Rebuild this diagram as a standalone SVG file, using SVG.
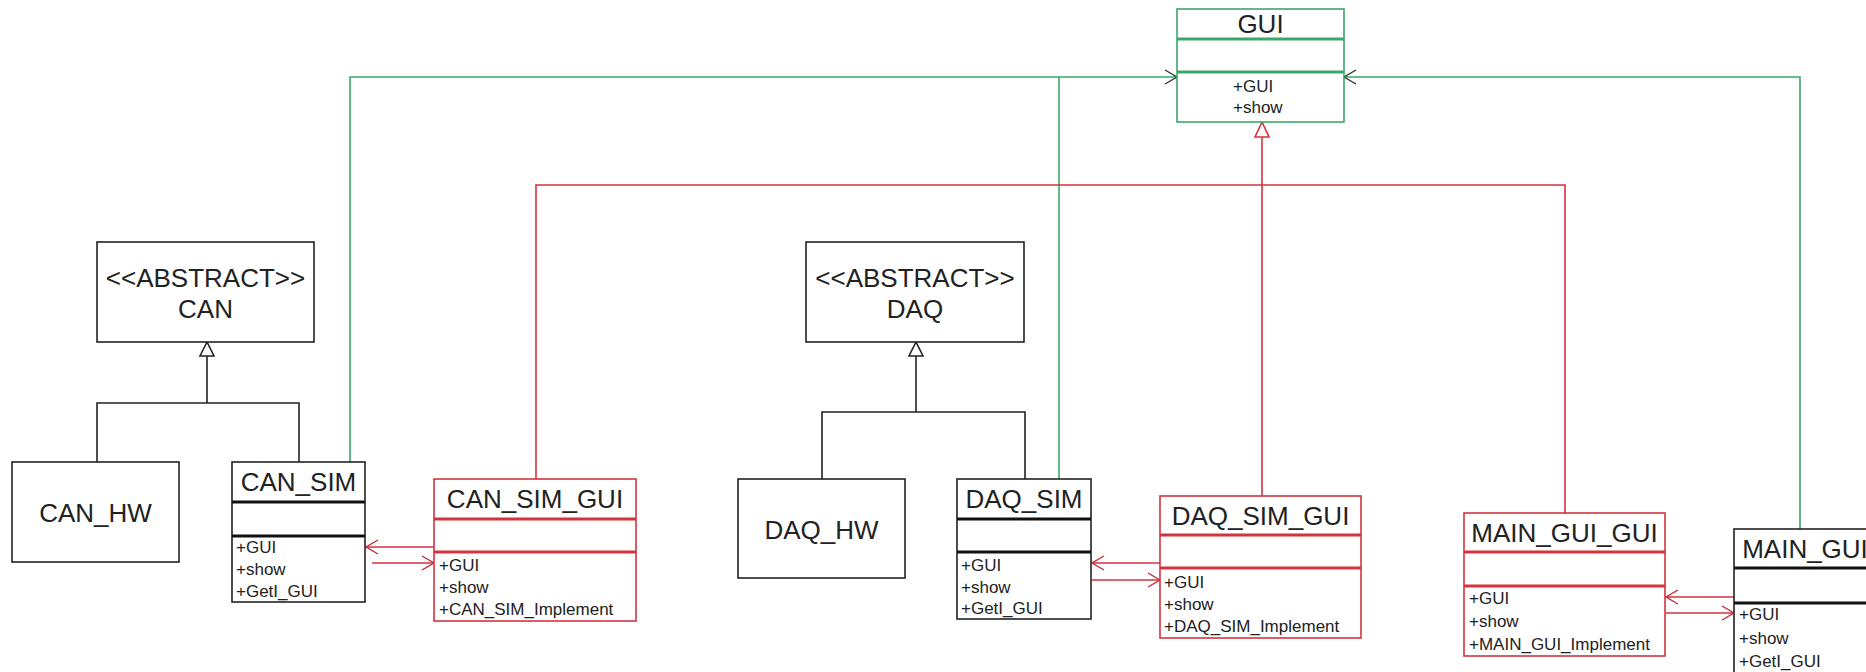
<svg xmlns="http://www.w3.org/2000/svg" width="1866" height="672" viewBox="0 0 1866 672">
<style>
  text { font-family: "Liberation Sans", Arial, sans-serif; fill: #222; }
  .name { font-size: 26px; text-anchor: middle; }
  .mem { font-size: 17px; }
  .bk { fill: #fff; stroke: #222; stroke-width: 1.6; }
  .gr { fill: #fff; stroke: #3aa868; stroke-width: 1.6; }
  .rd { fill: #fff; stroke: #d4323f; stroke-width: 1.6; }
  .dbk { stroke: #111; stroke-width: 3; }
  .dgr { stroke: #3aa868; stroke-width: 3; }
  .drd { stroke: #d4323f; stroke-width: 3; }
  .cbk { fill: none; stroke: #222; stroke-width: 1.6; }
  .cgr { fill: none; stroke: #3aa868; stroke-width: 1.6; }
  .crd { fill: none; stroke: #d4323f; stroke-width: 1.6; }
  .tri { fill: #fff; stroke-width: 1.6; }
</style>
<defs>
  <marker id="arrRed" viewBox="-14 -9 16 18" refX="0" refY="0" markerWidth="16" markerHeight="18" markerUnits="userSpaceOnUse" orient="auto">
    <path d="M-12,-7 L0,0 L-12,7" fill="none" stroke="#c42a38" stroke-width="1.4"/>
  </marker>
  <marker id="arrDark" viewBox="-14 -9 16 18" refX="0" refY="0" markerWidth="16" markerHeight="18" markerUnits="userSpaceOnUse" orient="auto">
    <path d="M-12,-7 L0,0 L-12,7" fill="none" stroke="#333" stroke-width="1.4"/>
  </marker>
</defs>
<rect width="1866" height="672" fill="#fff"/>

<g id="connectors">
  <polyline class="cbk" points="207,356 207,403"/>
  <polyline class="cbk" points="97,462 97,403 299,403 299,462"/>
  <polygon class="tri" stroke="#222" points="207,342 200,356 214,356"/>
  <polyline class="cbk" points="916,356 916,412"/>
  <polyline class="cbk" points="822,479 822,412 1025,412 1025,479"/>
  <polygon class="tri" stroke="#222" points="916,342 909,356 923,356"/>
  <polyline class="cgr" points="350,462 350,77 1177,77" marker-end="url(#arrDark)"/>
  <polyline class="cgr" points="1059,479 1059,77"/>
  <polyline class="cgr" points="1800,529 1800,77 1344,77" marker-end="url(#arrDark)"/>
  <polyline class="crd" points="536,479 536,185 1565,185 1565,513"/>
  <polyline class="crd" points="1262,496 1262,137"/>
  <polygon class="tri" stroke="#d4323f" points="1262,122 1255,137 1269,137"/>
  <line class="crd" x1="434" y1="547" x2="366" y2="547" marker-end="url(#arrRed)"/>
  <line class="crd" x1="372" y1="563" x2="434" y2="563" marker-end="url(#arrRed)"/>
  <line class="crd" x1="1160" y1="563" x2="1092" y2="563" marker-end="url(#arrRed)"/>
  <line class="crd" x1="1092" y1="580" x2="1160" y2="580" marker-end="url(#arrRed)"/>
  <line class="crd" x1="1734" y1="597" x2="1666" y2="597" marker-end="url(#arrRed)"/>
  <line class="crd" x1="1666" y1="613" x2="1734" y2="613" marker-end="url(#arrRed)"/>
</g>

<g id="GUI">
  <rect class="gr" x="1177" y="9" width="167" height="113"/>
  <line class="dgr" x1="1177" y1="39" x2="1344" y2="39"/>
  <line class="dgr" x1="1177" y1="72" x2="1344" y2="72"/>
  <text class="name" x="1260.5" y="33" font-size="25">GUI</text>
  <text class="mem" x="1233" y="92">+GUI</text>
  <text class="mem" x="1233" y="113">+show</text>
</g>

<g id="CAN">
  <rect class="bk" x="97" y="242" width="217" height="100"/>
  <text class="name" x="205.5" y="287">&lt;&lt;ABSTRACT&gt;&gt;</text>
  <text class="name" x="205.5" y="318">CAN</text>
</g>

<g id="CAN_HW">
  <rect class="bk" x="12" y="462" width="167" height="100"/>
  <text class="name" x="95.5" y="522">CAN_HW</text>
</g>

<g id="CAN_SIM">
  <rect class="bk" x="232" y="462" width="133" height="140"/>
  <line class="dbk" x1="232" y1="502" x2="365" y2="502"/>
  <line class="dbk" x1="232" y1="536" x2="365" y2="536"/>
  <text class="name" x="298.5" y="491">CAN_SIM</text>
  <text class="mem" x="236" y="553">+GUI</text>
  <text class="mem" x="236" y="575">+show</text>
  <text class="mem" x="236" y="597">+GetI_GUI</text>
</g>

<g id="CAN_SIM_GUI">
  <rect class="rd" x="434" y="479" width="202" height="142"/>
  <line class="drd" x1="434" y1="519" x2="636" y2="519"/>
  <line class="drd" x1="434" y1="552" x2="636" y2="552"/>
  <text class="name" x="535" y="508">CAN_SIM_GUI</text>
  <text class="mem" x="439" y="571">+GUI</text>
  <text class="mem" x="439" y="593">+show</text>
  <text class="mem" x="439" y="615">+CAN_SIM_Implement</text>
</g>

<g id="DAQ">
  <rect class="bk" x="806" y="242" width="218" height="100"/>
  <text class="name" x="915" y="287">&lt;&lt;ABSTRACT&gt;&gt;</text>
  <text class="name" x="915" y="318">DAQ</text>
</g>

<g id="DAQ_HW">
  <rect class="bk" x="738" y="479" width="167" height="99"/>
  <text class="name" x="821.5" y="539">DAQ_HW</text>
</g>

<g id="DAQ_SIM">
  <rect class="bk" x="957" y="479" width="134" height="140"/>
  <line class="dbk" x1="957" y1="519" x2="1091" y2="519"/>
  <line class="dbk" x1="957" y1="552" x2="1091" y2="552"/>
  <text class="name" x="1024" y="508">DAQ_SIM</text>
  <text class="mem" x="961" y="571">+GUI</text>
  <text class="mem" x="961" y="593">+show</text>
  <text class="mem" x="961" y="614">+GetI_GUI</text>
</g>

<g id="DAQ_SIM_GUI">
  <rect class="rd" x="1160" y="496" width="201" height="142"/>
  <line class="drd" x1="1160" y1="535" x2="1361" y2="535"/>
  <line class="drd" x1="1160" y1="568" x2="1361" y2="568"/>
  <text class="name" x="1260.5" y="525">DAQ_SIM_GUI</text>
  <text class="mem" x="1164" y="588">+GUI</text>
  <text class="mem" x="1164" y="610">+show</text>
  <text class="mem" x="1164" y="632">+DAQ_SIM_Implement</text>
</g>

<g id="MAIN_GUI_GUI">
  <rect class="rd" x="1464" y="513" width="201" height="143"/>
  <line class="drd" x1="1464" y1="552" x2="1665" y2="552"/>
  <line class="drd" x1="1464" y1="586" x2="1665" y2="586"/>
  <text class="name" x="1564.5" y="542">MAIN_GUI_GUI</text>
  <text class="mem" x="1469" y="604">+GUI</text>
  <text class="mem" x="1469" y="627">+show</text>
  <text class="mem" x="1469" y="650">+MAIN_GUI_Implement</text>
</g>

<g id="MAIN_GUI">
  <rect class="bk" x="1734" y="529" width="150" height="150"/>
  <line class="dbk" x1="1734" y1="568" x2="1884" y2="568"/>
  <line class="dbk" x1="1734" y1="603" x2="1884" y2="603"/>
  <text class="name" x="1805" y="558">MAIN_GUI</text>
  <text class="mem" x="1739" y="620">+GUI</text>
  <text class="mem" x="1739" y="644">+show</text>
  <text class="mem" x="1739" y="667">+GetI_GUI</text>
</g>
</svg>
